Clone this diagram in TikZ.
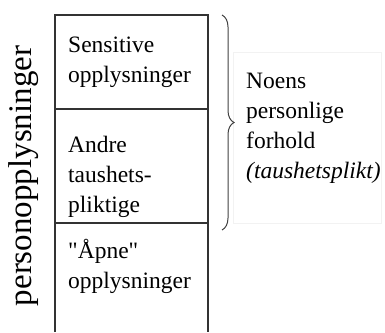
\documentclass[tikz,border=0pt]{standalone}
\usepackage{fontspec}
\setmainfont{Liberation Serif}[Ligatures=TeXOff]
\usetikzlibrary{decorations.pathreplacing}
\tikzset{
  boxline/.style={draw=black!80, line width=1.4pt},
  celltext/.style={anchor=base west, align=left, inner sep=0pt, font=\fontsize{23.5}{30}\selectfont},
  sidelabel/.style={rotate=90, anchor=base, inner sep=0pt, font=\fontsize{33}{36}\selectfont},
  bracestyle/.style={draw=black!75, line width=1pt, decorate, decoration={brace, amplitude=12pt}},
}
\begin{document}
\begin{tikzpicture}[x=1pt,y=-1pt]
\useasboundingbox (0,0) rectangle (385,332);
% faint text frame
\draw[black!5, line width=0.8pt] (233,52) rectangle (381,223);
% box
\coordinate (tl) at (55,15);
\coordinate (tr) at (208,15);
\coordinate (bl) at (55,332);
\coordinate (br) at (208,332);
\coordinate (d1l) at (55,109);
\coordinate (d1r) at (208,109);
\coordinate (d2l) at (55,223);
\coordinate (d2r) at (208,223);
\draw[boxline] (bl) -- (tl) -- (tr) -- (br);
\draw[boxline] (d1l) -- (d1r);
\draw[boxline] (d2l) -- (d2r);
% cell texts (anchored at the last line's baseline)
\node[celltext] (c1) at (68,82) {Sensitive\\opplysninger};
\node[celltext] (c2) at (68,212) {Andre\\taushets-\\pliktige};
\node[celltext] (c3) at (68,288) {"Åpne"\\opplysninger};
% side label
\node[sidelabel] (side) at (31,176) {personopplysninger};
% brace
\coordinate (bt) at (222,15);
\coordinate (bb) at (222,230);
\draw[bracestyle] (bt) -- (bb);
% right text
\node[celltext] (r) at (246,178) {Noens\\personlige\\forhold\\\textit{(taushetsplikt)}};
\end{tikzpicture}
\end{document}
